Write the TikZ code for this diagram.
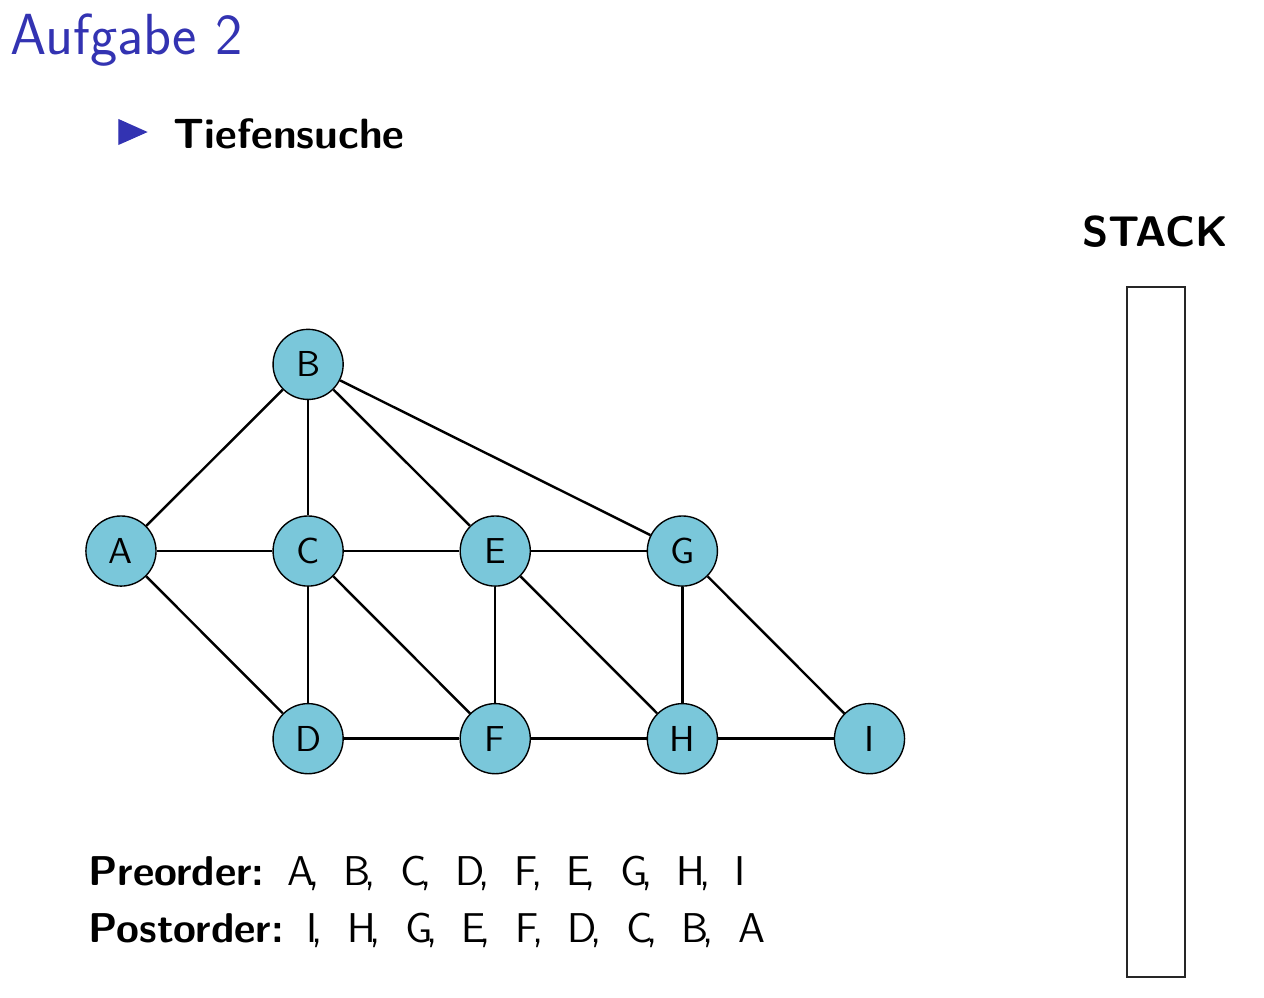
\documentclass[tikz,border=0pt]{standalone}

\definecolor{knotenblau}{RGB}{122,199,218}
\definecolor{titelblau}{RGB}{51,51,178}

%Komma dicht an den Buchstaben
\newcommand{\ko}{\kern-.15em,\ \ \kern-.07em}

\tikzset{
	knoten/.style={circle, draw, thin, fill=knotenblau, minimum size=0.71cm, inner sep=0pt, font=\fontsize{10.4}{12}\selectfont\sffamily},
	kante/.style={line width=0.7pt},
	folge/.style={anchor=base west, inner sep=0pt, font=\fontsize{12}{14}\selectfont\sffamily}
}

\begin{document}
\begin{tikzpicture}

%Rahmen der Folie
\useasboundingbox (0,0) rectangle (12.8,-10.106);

%Ueberschrift
\node[anchor=base west, inner sep=0pt, text=titelblau, font=\fontsize{16.7}{19}\selectfont\sffamily] (titel) at (0.10,-0.547) {Aufgabe 2};

%Aufzaehlungspunkt
\filldraw[titelblau] (1.205,-1.215) -- (1.478,-1.337) -- (1.205,-1.458) -- cycle;
\node[anchor=base west, inner sep=0pt, font=\fontsize{12.2}{14}\selectfont\sffamily\bfseries] (tiefensuche) at (1.752,-1.499) {Tiefensuche};

%Knoten
\node[knoten] (A) at (1.225,-5.58) {A};
\node[knoten] (B) at (3.12,-3.69) {B};
\node[knoten] (C) at (3.12,-5.58) {C};
\node[knoten] (E) at (5.015,-5.58) {E};
\node[knoten] (G) at (6.91,-5.58) {G};
\node[knoten] (D) at (3.12,-7.48) {D};
\node[knoten] (F) at (5.015,-7.48) {F};
\node[knoten] (H) at (6.91,-7.48) {H};
\node[knoten] (I) at (8.805,-7.48) {I};

%Kanten
\draw[kante] (A) -- (B);
\draw[kante] (A) -- (C);
\draw[kante] (A) -- (D);
\draw[kante] (B) -- (C);
\draw[kante] (B) -- (E);
\draw[kante] (B) -- (G);
\draw[kante] (C) -- (E);
\draw[kante] (C) -- (D);
\draw[kante] (C) -- (F);
\draw[kante] (E) -- (G);
\draw[kante] (E) -- (F);
\draw[kante] (E) -- (H);
\draw[kante] (G) -- (H);
\draw[kante] (G) -- (I);
\draw[kante] (D) -- (F);
\draw[kante] (F) -- (H);
\draw[kante] (H) -- (I);

%Reihenfolgen
\node[folge] (pre) at (0.89,-8.962) {\bfseries Preorder:\hspace{0.55em}\mdseries A\ko B\ko C\ko D\ko F\ko E\ko G\ko H\ko I};
\node[folge] (post) at (0.89,-9.539) {\bfseries Postorder:\hspace{0.55em}\mdseries I\ko H\ko G\ko E\ko F\ko D\ko C\ko B\ko A};

%Stack
\node[anchor=base, inner sep=0pt, font=\fontsize{12.35}{14}\selectfont\sffamily\bfseries] (stack) at (11.70,-2.50) {STACK};
\draw[thin, black!85] (11.413,-2.906) rectangle (12.0,-9.894);

\end{tikzpicture}
\end{document}
